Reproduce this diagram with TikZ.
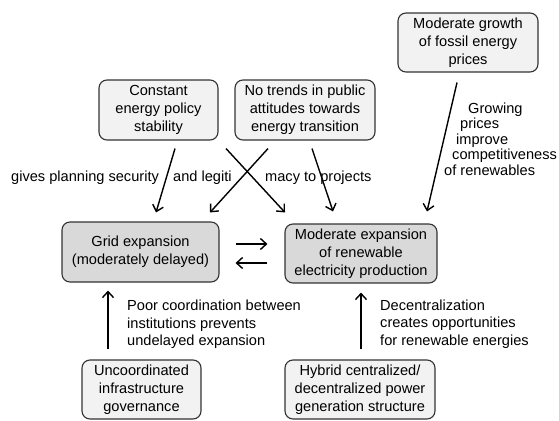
\documentclass[tikz,border=0pt]{standalone}
\usepackage{fontspec}
\setmainfont{Liberation Sans}
\usetikzlibrary{arrows.meta}
\definecolor{boxlight}{HTML}{F2F2F2}
\definecolor{boxdark}{HTML}{D9D9D9}
\definecolor{edge}{HTML}{333333}
\tikzset{
  factor/.style={draw=edge, line width=1.1pt, rounded corners=8pt, fill=boxlight,
    align=center, inner sep=0pt, font=\fontsize{14.6}{18}\selectfont},
  outcome/.style={factor, fill=boxdark},
  arr/.style={line width=1.4pt, -{Straight Barb[length=6pt,width=11pt,line width=1.4pt]}},
  lbl/.style={inner sep=0pt, align=left, font=\fontsize{14.6}{17.5}\selectfont}
}
\begin{document}
\begin{tikzpicture}[x=1pt,y=-1pt]
\useasboundingbox (0,0) rectangle (559,420);

% driving factors
\node[factor, minimum width=119pt, minimum height=60pt] (policy) at (158.5,110)
  {Constant\\energy policy\\stability};
\node[factor, minimum width=140pt, minimum height=60pt] (public) at (305,110)
  {No trends in public\\attitudes towards\\energy transition};
\node[factor, minimum width=140pt, minimum height=59pt] (fossil) at (468,42.5)
  {Moderate growth\\of fossil energy\\prices};
\node[factor, minimum width=119pt, minimum height=59pt] (govern) at (141.5,389.5)
  {Uncoordinated\\infrastructure\\governance};
\node[factor, minimum width=150pt, minimum height=59pt] (hybrid) at (360,389.5)
  {Hybrid centralized/\\decentralized power\\generation structure};

% outcomes
\node[outcome, minimum width=157pt, minimum height=60pt] (grid) at (140.5,252)
  {Grid expansion\\(moderately delayed)};
\node[outcome, minimum width=152pt, minimum height=59pt] (renew) at (361,253.5)
  {Moderate expansion\\of renewable\\electricity production};

% influences from above
\draw[arr] ([xshift=16.5pt,yshift=-8pt]policy.south) -- ([xshift=15.5pt,yshift=9pt]grid.north);
\draw[arr] ([xshift=-37pt,yshift=-8pt]public.south) -- ([xshift=69.5pt,yshift=9pt]grid.north);
\draw[arr] ([xshift=-79pt,yshift=-8pt]public.south) -- ([xshift=-76pt,yshift=11pt]renew.north);
\draw[arr] ([xshift=7pt,yshift=-8pt]public.south) -- ([xshift=-28pt,yshift=12pt]renew.north);
\draw[arr] ([xshift=-11pt,yshift=-10pt]fossil.south) -- ([xshift=66pt,yshift=12pt]renew.north);

% mutual influence between outcomes
\draw[arr] ([xshift=16pt,yshift=8pt]grid.east) -- ([xshift=-17pt,yshift=9.5pt]renew.west);
\draw[arr] ([xshift=-17pt,yshift=-9.5pt]renew.west) -- ([xshift=16pt,yshift=-11pt]grid.east);

% influences from below
\draw[arr] ([xshift=-33.5pt,yshift=10pt]govern.north) -- ([xshift=-32.5pt,yshift=-8pt]grid.south);
\draw[arr] ([xshift=1pt,yshift=10pt]hybrid.north) -- ([yshift=-9pt]renew.south);

% labels
\node[lbl, anchor=west] (l1) at (11,178) {gives planning security};
\node[lbl, anchor=west] (l2) at (173,178) {and legiti};
\node[lbl, anchor=west] (l3) at (265,178) {macy to projects};
\node[lbl, anchor=west, font=\fontsize{14.6}{15.6}\selectfont] (l4) at (444,139)
  {\hspace*{24pt}Growing\\\hspace*{16pt}prices\\\hspace*{12pt}improve\\\hspace*{8pt}competitiveness\\of renewables};
\node[lbl, anchor=west] (l5) at (127,324.5)
  {Poor coordination between\\institutions prevents\\undelayed expansion};
\node[lbl, anchor=west] (l6) at (380,324)
  {Decentralization\\creates opportunities\\for renewable energies};
\end{tikzpicture}
\end{document}
